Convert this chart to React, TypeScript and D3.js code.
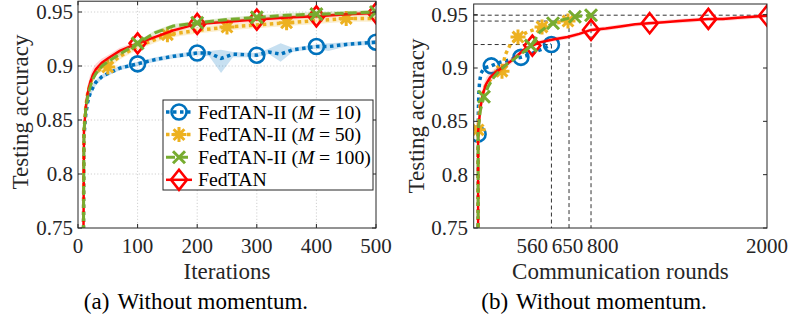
import React from "react";
import * as d3 from "d3";

type P = [number, number];
type S = [number, number]; // spread below / above the mean curve

// ---------- shared axis values ----------
const accTicks = [0.75, 0.8, 0.85, 0.9, 0.95];
const accTickLabels = ["0.75", "0.8", "0.85", "0.9", "0.95"];
const accDomain: [number, number] = [0.75, 0.96];

// ---------- panel (a): accuracy vs. iterations ----------
const iterTicks = [0, 100, 200, 300, 400, 500];

const iterM10: P[] = [
  [8, 0.6], [10, 0.835], [13, 0.855], [16, 0.866], [20, 0.874], [25, 0.88], [30, 0.885],
  [40, 0.89], [50, 0.893], [70, 0.898], [100, 0.902], [130, 0.906], [160, 0.909],
  [200, 0.912], [220, 0.912], [240, 0.907], [260, 0.911], [300, 0.91], [320, 0.913],
  [340, 0.911], [360, 0.915], [400, 0.918], [420, 0.918], [450, 0.92], [500, 0.922],
];
const spreadM10: S[] = [
  [0, 0], [0.004, 0.004], [0.004, 0.004], [0.004, 0.003], [0.003, 0.003], [0.003, 0.003], [0.003, 0.002],
  [0.002, 0.002], [0.002, 0.002], [0.002, 0.002], [0.002, 0.002], [0.002, 0.002], [0.002, 0.002],
  [0.002, 0.002], [0.003, 0.002], [0.0135, 0.008], [0.003, 0.002], [0.002, 0.002], [0.002, 0.003],
  [0.007, 0.01], [0.002, 0.002], [0.002, 0.002], [0.004, 0.003], [0.002, 0.002], [0.002, 0.002],
];
const markM10: P[] = [[100, 0.902], [200, 0.912], [300, 0.91], [400, 0.918], [500, 0.922]];

const iterM50: P[] = [
  [8, 0.6], [10, 0.84], [13, 0.862], [16, 0.874], [20, 0.883], [25, 0.89], [30, 0.894],
  [40, 0.898], [50, 0.9], [70, 0.909], [100, 0.918], [150, 0.929], [200, 0.933],
  [250, 0.936], [300, 0.938], [350, 0.94], [400, 0.942], [450, 0.944], [500, 0.944],
];
const spreadM50: S[] = [
  [0, 0], [0.005, 0.005], [0.005, 0.005], [0.004, 0.004], [0.004, 0.004], [0.003, 0.003], [0.003, 0.003],
  [0.003, 0.003], [0.003, 0.003], [0.003, 0.003], [0.003, 0.003], [0.003, 0.003], [0.003, 0.003],
  [0.003, 0.003], [0.003, 0.003], [0.003, 0.003], [0.003, 0.003], [0.003, 0.003], [0.003, 0.003],
];
const markM50: P[] = [[50, 0.899], [150, 0.929], [250, 0.936], [350, 0.94], [450, 0.944]];

const iterM100: P[] = [
  [8, 0.6], [10, 0.84], [13, 0.86], [16, 0.871], [20, 0.88], [25, 0.888], [30, 0.893],
  [40, 0.9], [50, 0.904], [70, 0.911], [100, 0.921], [130, 0.931], [160, 0.937],
  [200, 0.94], [250, 0.943], [300, 0.945], [350, 0.947], [400, 0.948], [450, 0.949], [500, 0.95],
];
const spreadM100: S[] = [
  [0, 0], [0.004, 0.004], [0.004, 0.004], [0.003, 0.003], [0.003, 0.003], [0.002, 0.002], [0.002, 0.002],
  [0.002, 0.002], [0.002, 0.002], [0.002, 0.002], [0.002, 0.002], [0.002, 0.002], [0.002, 0.002],
  [0.002, 0.002], [0.002, 0.002], [0.002, 0.002], [0.002, 0.002], [0.002, 0.002], [0.002, 0.002], [0.002, 0.002],
];
const markM100: P[] = [[100, 0.921], [200, 0.94], [300, 0.945], [400, 0.948], [500, 0.95]];

const iterFedTAN: P[] = [
  [8, 0.6], [10, 0.84], [13, 0.862], [16, 0.874], [20, 0.884], [25, 0.892], [30, 0.897],
  [40, 0.903], [50, 0.907], [70, 0.914], [100, 0.921], [130, 0.927], [160, 0.933],
  [200, 0.939], [250, 0.941], [300, 0.943], [350, 0.945], [400, 0.946], [450, 0.948], [500, 0.949],
];
const spreadFedTAN: S[] = [
  [0, 0], [0.008, 0.008], [0.008, 0.008], [0.008, 0.008], [0.007, 0.007], [0.006, 0.006], [0.005, 0.005],
  [0.004, 0.004], [0.003, 0.003], [0.003, 0.003], [0.002, 0.002], [0.002, 0.002], [0.002, 0.002],
  [0.002, 0.002], [0.002, 0.002], [0.002, 0.002], [0.002, 0.002], [0.002, 0.002], [0.002, 0.002], [0.002, 0.002],
];
const markFedTAN: P[] = [[100, 0.921], [200, 0.939], [300, 0.943], [400, 0.946], [500, 0.949]];

// ---------- panel (b): accuracy vs. communication rounds ----------
const roundTicks = [400, 640, 880, 2000];
const roundTickLabels = ["560", "650", "800", "2000"];

const roundM10: P[] = [
  [30, 0.6], [30, 0.838], [32, 0.86], [35, 0.876], [40, 0.887], [50, 0.895], [70, 0.9],
  [120, 0.902], [170, 0.905], [230, 0.907], [280, 0.909], [322, 0.91], [370, 0.912],
  [420, 0.915], [470, 0.918], [530, 0.922],
];
const markRoundM10: P[] = [[30, 0.838], [120, 0.902], [322, 0.91], [530, 0.922]];

const roundM50: P[] = [
  [30, 0.6], [30, 0.842], [40, 0.862], [55, 0.874], [80, 0.883], [120, 0.89], [160, 0.894],
  [193, 0.897], [214, 0.912], [250, 0.922], [302, 0.929], [370, 0.934], [466, 0.9385],
  [550, 0.942], [650, 0.944],
];
const markRoundM50: P[] = [[30, 0.842], [193, 0.897], [302, 0.929], [466, 0.9385], [643, 0.944]];

const roundM100: P[] = [
  [30, 0.6], [30, 0.84], [45, 0.86], [70, 0.873], [100, 0.883], [140, 0.892], [180, 0.898],
  [230, 0.904], [282, 0.909], [340, 0.915], [390, 0.921], [420, 0.927], [452, 0.934],
  [500, 0.939], [541, 0.942], [600, 0.945], [690, 0.948], [800, 0.9495],
];
const markRoundM100: P[] = [[70, 0.873], [390, 0.921], [541, 0.942], [690, 0.948], [800, 0.9495]];

const roundFedTAN: P[] = [
  [30, 0.6], [30, 0.84], [45, 0.862], [63, 0.876], [85, 0.885], [111, 0.891], [150, 0.896],
  [200, 0.901], [250, 0.906], [300, 0.912], [350, 0.918], [400, 0.921], [450, 0.924],
  [550, 0.927], [640, 0.929], [720, 0.932], [800, 0.9357], [900, 0.937], [1000, 0.939],
  [1100, 0.941], [1195, 0.942], [1300, 0.943], [1400, 0.944], [1500, 0.945], [1597, 0.946],
  [1700, 0.946], [1800, 0.947], [1900, 0.948], [2000, 0.949],
];
const spreadRoundFedTAN: S[] = [
  [0, 0], [0.008, 0.008], [0.008, 0.008], [0.007, 0.007], [0.006, 0.006], [0.005, 0.005], [0.004, 0.004],
  [0.003, 0.003], [0.003, 0.003], [0.002, 0.002], [0.002, 0.002], [0.002, 0.002], [0.002, 0.002],
  [0.002, 0.002], [0.002, 0.002], [0.002, 0.002], [0.002, 0.002], [0.002, 0.002], [0.002, 0.002],
  [0.002, 0.001], [0.002, 0.002], [0.001, 0.002], [0.002, 0.002], [0.002, 0.002], [0.002, 0.001],
  [0.002, 0.002], [0.002, 0.002], [0.002, 0.001], [0.002, 0.002],
];
const markRoundFedTAN: P[] = [[400, 0.921], [800, 0.9357], [1200, 0.942], [1600, 0.946], [2000, 0.949]];

// target-accuracy guides: [rounds, accuracy, horizontal guide end]
const guides: [number, number, number][] = [
  [530, 0.922, 530],
  [650, 0.944, 650],
  [800, 0.9495, 2000],
];

const legendLabels = [
  { pre: "FedTAN-II (", it: "M", post: "10)" },
  { pre: "FedTAN-II (", it: "M", post: "50)" },
  { pre: "FedTAN-II (", it: "M", post: "100)" },
  { pre: "FedTAN", it: "", post: "" },
];

// ---------- styles ----------
const FONT = "Liberation Serif";
const INK = "#262626";
const C_BLUE = "#0072BD";
const C_YEL = "#EDB120";
const C_GRN = "#77AC30";
const C_RED = "#FF0000";

type Kind = "circle" | "star" | "cross" | "diamond";
interface Style {
  color: string;
  width: number;
  dash?: string;
  kind: Kind;
  band: string;
}
const ST_M10: Style = { color: C_BLUE, width: 3.5, dash: "3.5 3.5", kind: "circle", band: "rgba(0,114,189,0.22)" };
const ST_M50: Style = { color: C_YEL, width: 3.5, dash: "3.5 3.5", kind: "star", band: "rgba(237,177,32,0.22)" };
const ST_M100: Style = { color: C_GRN, width: 3, dash: "9 4", kind: "cross", band: "rgba(119,172,48,0.22)" };
const ST_RED: Style = { color: C_RED, width: 2.5, kind: "diamond", band: "rgba(255,0,0,0.16)" };

function Marker({ x, y, s }: { x: number; y: number; s: Style }) {
  const c = s.color;
  if (s.kind === "circle")
    return <circle cx={x} cy={y} r={7.5} fill="none" stroke={c} strokeWidth={2.6} />;
  if (s.kind === "diamond")
    return (
      <path d={`M${x},${y - 10}L${x + 8},${y}L${x},${y + 10}L${x - 8},${y}Z`} fill="none" stroke={c} strokeWidth={2.6} />
    );
  if (s.kind === "cross") {
    const r = 6;
    return (
      <path d={`M${x - r},${y - r}L${x + r},${y + r}M${x - r},${y + r}L${x + r},${y - r}`} stroke={c} strokeWidth={3} />
    );
  }
  const r = 7.5;
  const d = r * 0.72;
  return (
    <path
      d={`M${x - r},${y}L${x + r},${y}M${x},${y - r}L${x},${y + r}M${x - d},${y - d}L${x + d},${y + d}M${x - d},${y + d}L${x + d},${y - d}`}
      stroke={c}
      strokeWidth={3}
    />
  );
}

function Series({
  pts, spread, marks, s, x, y, clip,
}: {
  pts: P[]; spread?: S[]; marks: P[]; s: Style;
  x: d3.ScaleLinear<number, number>; y: d3.ScaleLinear<number, number>; clip: string;
}) {
  const line = d3.line<P>().x((d) => x(d[0])).y((d) => y(d[1]));
  let bandPath: string | null = null;
  if (spread) {
    const rows = pts.map((p, i) => ({ x: p[0], lo: p[1] - spread[i][0], hi: p[1] + spread[i][1] }));
    bandPath = d3
      .area<{ x: number; lo: number; hi: number }>()
      .x((d) => x(d.x))
      .y0((d) => y(d.lo))
      .y1((d) => y(d.hi))(rows);
  }
  return (
    <g clipPath={`url(#${clip})`}>
      {bandPath && <path d={bandPath} fill={s.band} stroke="none" />}
      <path d={line(pts) || ""} fill="none" stroke={s.color} strokeWidth={s.width} strokeDasharray={s.dash} />
      {marks.map((m, i) => (
        <Marker key={i} x={x(m[0])} y={y(m[1])} s={s} />
      ))}
    </g>
  );
}

export default function App() {
  const W = 789;
  const H = 321;

  // panel (a) frame
  const xA = d3.scaleLinear().domain([0, 500]).range([78, 376]);
  const yA = d3.scaleLinear().domain(accDomain).range([228, 1.2]);
  // panel (b) frame
  const xB = d3.scaleLinear().domain([0, 2000]).range([473.7, 767]);
  const yB = d3.scaleLinear().domain(accDomain).range([228, 4]);

  const tick = 4;
  const tickFont = 21;
  const labelFont = 23;

  const [a0, a1] = xA.range();
  const [aB, aT] = yA.range();
  const [b0, b1] = xB.range();
  const [bB, bT] = yB.range();

  const legendStyles = [ST_M10, ST_M50, ST_M100, ST_RED];
  const lgX = 163, lgY = 100, lgW = 210, lgH = 90;
  const txt = { fontFamily: FONT };

  return (
    <svg width={W} height={H} style={{ position: "absolute", left: 0, top: 0, background: "#fff", fontFamily: FONT }}>
      <defs>
        <clipPath id="clipA">
          <rect x={a0} y={aT} width={a1 - a0} height={aB - aT} />
        </clipPath>
        <clipPath id="clipB">
          <rect x={b0} y={bT} width={b1 - b0} height={bB - bT} />
        </clipPath>
      </defs>

      {/* ===== panel (a) ===== */}
      <rect x={a0} y={aT} width={a1 - a0} height={aB - aT} fill="#fff" />
      {iterTicks.slice(1, -1).map((t) => (
        <line key={`gx${t}`} x1={xA(t)} x2={xA(t)} y1={aT} y2={aB} stroke="#c4c4c4" strokeWidth={0.8} strokeDasharray="1.2 2" />
      ))}
      {accTicks.slice(1).map((t) => (
        <line key={`gy${t}`} x1={a0} x2={a1} y1={yA(t)} y2={yA(t)} stroke="#c4c4c4" strokeWidth={0.8} strokeDasharray="1.2 2" />
      ))}

      <Series pts={iterM10} spread={spreadM10} marks={markM10} s={ST_M10} x={xA} y={yA} clip="clipA" />
      <Series pts={iterM50} spread={spreadM50} marks={markM50} s={ST_M50} x={xA} y={yA} clip="clipA" />
      <Series pts={iterFedTAN} spread={spreadFedTAN} marks={markFedTAN} s={ST_RED} x={xA} y={yA} clip="clipA" />
      <Series pts={iterM100} spread={spreadM100} marks={markM100} s={ST_M100} x={xA} y={yA} clip="clipA" />

      {/* frame, ticks */}
      <rect x={a0} y={aT} width={a1 - a0} height={aB - aT} fill="none" stroke={INK} strokeWidth={1} />
      {iterTicks.map((t) => (
        <g key={`tx${t}`}>
          <line x1={xA(t)} x2={xA(t)} y1={aB} y2={aB - tick} stroke={INK} />
          <line x1={xA(t)} x2={xA(t)} y1={aT} y2={aT + tick} stroke={INK} />
          <text style={txt} x={xA(t)} y={253} textAnchor="middle" fontSize={tickFont} fill={INK}>{t}</text>
        </g>
      ))}
      {accTicks.map((t, i) => (
        <g key={`ty${t}`}>
          <line x1={a0} x2={a0 + tick} y1={yA(t)} y2={yA(t)} stroke={INK} />
          <line x1={a1} x2={a1 - tick} y1={yA(t)} y2={yA(t)} stroke={INK} />
          <text style={txt} x={73} y={yA(t) + 7} textAnchor="end" fontSize={tickFont} fill={INK}>{accTickLabels[i]}</text>
        </g>
      ))}
      <text style={txt} x={(a0 + a1) / 2} y={279} textAnchor="middle" fontSize={labelFont} fill={INK}>Iterations</text>
      <text style={txt} transform={`translate(28,112) rotate(-90)`} textAnchor="middle" fontSize={labelFont} fill={INK}>Testing accuracy</text>
      <text style={txt} x={196} y={309} textAnchor="middle" fontSize={labelFont} fill="#000">
        (a)<tspan dx={8}>Without momentum.</tspan>
      </text>

      {/* legend */}
      <rect x={lgX} y={lgY} width={lgW} height={lgH} fill="#fff" stroke={INK} strokeWidth={1} />
      {legendLabels.map((l, i) => {
        const cy = 112 + i * 22.6;
        const s = legendStyles[i];
        return (
          <g key={`lg${i}`}>
            <line x1={166} x2={192} y1={cy} y2={cy} stroke={s.color} strokeWidth={s.width} strokeDasharray={s.dash} />
            <Marker x={179} y={cy} s={s} />
            <text style={txt} x={198} y={cy + 6.5} fontSize={19.8} fill="#000">
              {l.pre}
              {l.it && <tspan fontStyle="italic">{l.it}</tspan>}
              {l.it && <tspan dx={4.5}>=</tspan>}
              {l.it && <tspan dx={4.5}>{l.post}</tspan>}
            </text>
          </g>
        );
      })}

      {/* ===== panel (b) ===== */}
      <rect x={b0} y={bT} width={b1 - b0} height={bB - bT} fill="#fff" />

      {guides.map(([r, acc, hEnd], i) => (
        <g key={`gd${i}`} stroke="#333" strokeWidth={1} strokeDasharray="4 3" fill="none">
          <line x1={b0} x2={xB(hEnd)} y1={yB(acc)} y2={yB(acc)} />
          <line x1={xB(r)} x2={xB(r)} y1={yB(acc)} y2={bB} />
        </g>
      ))}

      <Series pts={roundM10} marks={markRoundM10} s={ST_M10} x={xB} y={yB} clip="clipB" />
      <Series pts={roundM50} marks={markRoundM50} s={ST_M50} x={xB} y={yB} clip="clipB" />
      <Series pts={roundFedTAN} spread={spreadRoundFedTAN} marks={markRoundFedTAN} s={ST_RED} x={xB} y={yB} clip="clipB" />
      <Series pts={roundM100} marks={markRoundM100} s={ST_M100} x={xB} y={yB} clip="clipB" />

      <rect x={b0} y={bT} width={b1 - b0} height={bB - bT} fill="none" stroke={INK} strokeWidth={1} />
      {accTicks.map((t, i) => (
        <g key={`by${t}`}>
          <line x1={b0} x2={b0 + tick} y1={yB(t)} y2={yB(t)} stroke={INK} />
          <line x1={b1} x2={b1 - tick} y1={yB(t)} y2={yB(t)} stroke={INK} />
          <text style={txt} x={468} y={yB(t) + 7} textAnchor="end" fontSize={tickFont} fill={INK}>{accTickLabels[i]}</text>
        </g>
      ))}
      {roundTicks.map((t, i) => (
        <text style={txt} key={`bx${t}`} x={xB(t)} y={253} textAnchor="middle" fontSize={tickFont} fill={INK}>{roundTickLabels[i]}</text>
      ))}
      <text style={txt} x={(b0 + b1) / 2} y={279} textAnchor="middle" fontSize={labelFont} fill={INK}>Communication rounds</text>
      <text style={txt} transform={`translate(424,116) rotate(-90)`} textAnchor="middle" fontSize={labelFont} fill={INK}>Testing accuracy</text>
      <text style={txt} x={594} y={309} textAnchor="middle" fontSize={labelFont} fill="#000">
        (b)<tspan dx={8}>Without momentum.</tspan>
      </text>
    </svg>
  );
}
